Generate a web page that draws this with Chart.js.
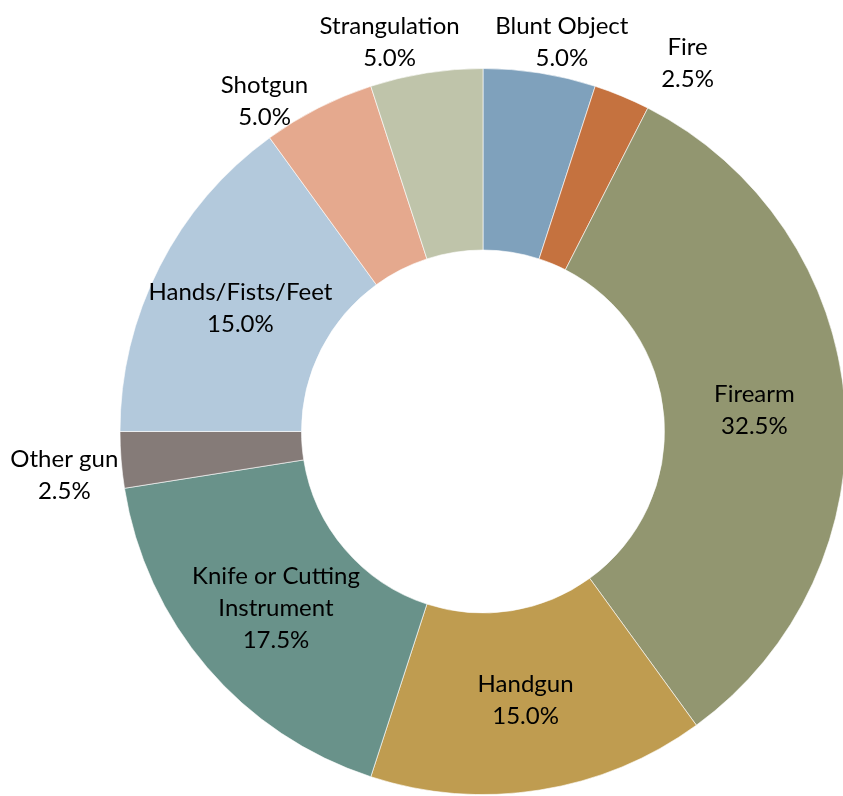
<!DOCTYPE html>
<html lang="en">
  <head>
    <meta charset="UTF-8" />
    <title>Weapon Type Share</title>
    <script src="https://cdn.jsdelivr.net/npm/chart.js"></script>
    <style>
      html, body { margin: 0; padding: 0; background: #fff; }
      #wrap { width: 843px; height: 796px; position: relative; }
    </style>
  </head>
  <body>
    <div id="wrap"><canvas id="weaponChart"></canvas></div>

    <script>
      // Data (percent of cases)
      const categories = [
        "Blunt Object",
        "Fire",
        "Firearm",
        "Handgun",
        "Knife or Cutting\nInstrument",
        "Other gun",
        "Hands/Fists/Feet",
        "Shotgun",
        "Strangulation",
      ];
      const shares = [5.0, 2.5, 32.5, 15.0, 17.5, 2.5, 15.0, 5.0, 5.0];
      const sliceColors = [
        "#7fa1bc", "#c5723f", "#929670", "#bf9c50", "#69928a",
        "#857b78", "#b3c9dc", "#e5a98e", "#bfc4aa",
      ];

      // small nudges for the outside labels (Excel spreads them apart)
      const labelShift = {
        "Blunt Object": [11, 5],
        "Fire": [54, 0],
        "Strangulation": [-25, 5],
        "Shotgun": [-32, 25],
        "Other gun": [1, 12],
      };

      const FONT = "24px Lato, 'Open Sans', sans-serif";
      const LINE = 32;

      // Draws the category + percent labels on each slice
      const sliceLabels = {
        id: "sliceLabels",
        afterDatasetsDraw(chart) {
          const ctx = chart.ctx;
          const meta = chart.getDatasetMeta(0);
          ctx.save();
          ctx.font = FONT;
          ctx.fillStyle = "#000";
          ctx.textAlign = "center";
          ctx.textBaseline = "middle";
          meta.data.forEach((arc, i) => {
            const p = arc.getProps(["x", "y", "startAngle", "endAngle", "innerRadius", "outerRadius"], true);
            const mid = (p.startAngle + p.endAngle) / 2;
            const lines = categories[i].split("\n").concat([shares[i].toFixed(1) + "%"]);
            const h = lines.length * LINE;
            let cx, cy;
            if (shares[i] >= 10) {
              const r = (p.innerRadius + p.outerRadius) / 2;
              cx = p.x + Math.cos(mid) * r;
              cy = p.y + Math.sin(mid) * r;
            } else {
              const w = Math.max(...lines.map((t) => ctx.measureText(t).width));
              const r = p.outerRadius + 4;
              cx = p.x + Math.cos(mid) * r + Math.cos(mid) * w / 2;
              cy = p.y + Math.sin(mid) * r + Math.sin(mid) * h / 2;
              const s = labelShift[categories[i]] || [0, 0];
              cx += s[0];
              cy += s[1];
            }
            lines.forEach((t, k) => {
              ctx.fillText(t, cx, cy - h / 2 + LINE / 2 + k * LINE);
            });
          });
          ctx.restore();
        },
      };

      const ctx = document.getElementById("weaponChart").getContext("2d");
      new Chart(ctx, {
        type: "doughnut",
        data: {
          labels: categories,
          datasets: [
            {
              data: shares,
              backgroundColor: sliceColors,
              borderColor: "rgba(255,255,255,0.6)",
              borderWidth: 1,
            },
          ],
        },
        options: {
          responsive: true,
          maintainAspectRatio: false,
          animation: false,
          cutout: "50%",
          radius: 363,
          layout: { padding: { left: 123, right: 0, top: 67, bottom: 0 } },
          plugins: {
            legend: { display: false },
            tooltip: { enabled: false },
          },
        },
        plugins: [sliceLabels],
      });
    </script>
  </body>
</html>
